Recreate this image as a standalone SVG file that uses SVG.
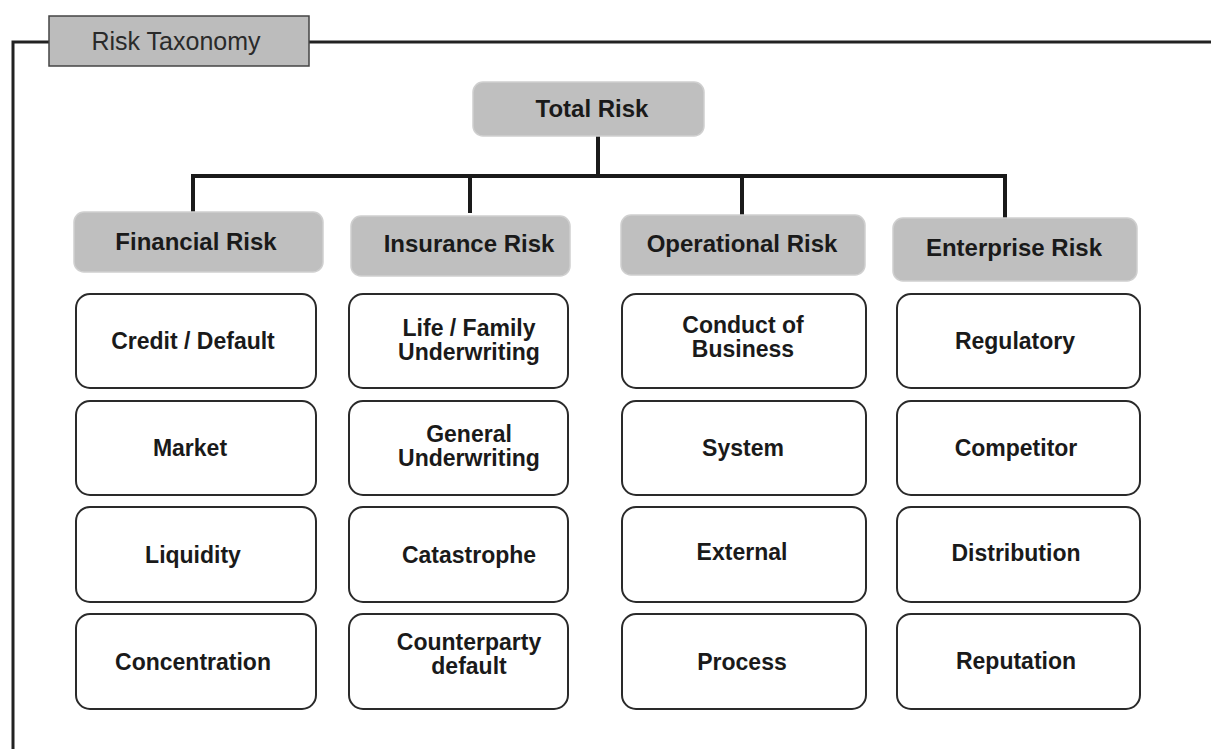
<svg xmlns="http://www.w3.org/2000/svg" width="1211" height="749" viewBox="0 0 1211 749">
<style>
.frame{fill:none;stroke:#222;stroke-width:3}
.conn{fill:none;stroke:#1a1a1a;stroke-width:4}
.cat{fill:#bfbfbf;stroke:#cfcfcf;stroke-width:1.5}
.leaf{fill:#fff;stroke:#2a2a2a;stroke-width:2}
.t{font-family:"Liberation Sans",Arial,sans-serif;font-weight:bold;fill:#1a1a1a;text-anchor:middle}
.ct{font-size:24px}
.lt{font-size:23px}
</style>
<rect width="1211" height="749" fill="#fff"/>
<g id="frame">
<path class="frame" d="M13,749 V42 H49 M309,42 H1211"/>
<rect x="49" y="16" width="260" height="50" fill="#bcbcbc" stroke="#444" stroke-width="1.5"/>
<text x="176" y="50" font-family="'Liberation Sans',Arial,sans-serif" font-size="25" fill="#2a2a2a" text-anchor="middle">Risk Taxonomy</text>
</g>
<g id="connectors">
<path class="conn" d="M598,136 V176 M193,232 V176 H1005 V218 M470,176 V213 M742,176 V215"/>
</g>
<g id="total"><rect class="cat" x="473" y="82" width="231" height="54" rx="10"/><text class="t ct" x="592" y="117">Total Risk</text></g>
<g id="financial"><rect class="cat" x="74" y="212" width="249" height="60" rx="10"/><text class="t ct" x="196" y="250">Financial Risk</text></g>
<g id="insurance"><rect class="cat" x="351" y="216" width="219" height="60" rx="10"/><text class="t ct" x="469" y="252">Insurance Risk</text></g>
<g id="operational"><rect class="cat" x="621" y="215" width="244" height="60" rx="10"/><text class="t ct" x="742" y="252">Operational Risk</text></g>
<g id="enterprise"><rect class="cat" x="893" y="218" width="244" height="63" rx="10"/><text class="t ct" x="1014" y="256">Enterprise Risk</text></g>

<g id="credit"><rect class="leaf" x="76" y="294" width="240" height="94" rx="14"/><text class="t lt" x="193" y="349">Credit / Default</text></g>
<g id="market"><rect class="leaf" x="76" y="401" width="240" height="94" rx="14"/><text class="t lt" x="190" y="456">Market</text></g>
<g id="liquidity"><rect class="leaf" x="76" y="507" width="240" height="95" rx="14"/><text class="t lt" x="193" y="563">Liquidity</text></g>
<g id="concentration"><rect class="leaf" x="76" y="614" width="240" height="95" rx="14"/><text class="t lt" x="193" y="670">Concentration</text></g>

<g id="life"><rect class="leaf" x="349" y="294" width="219" height="94" rx="14"/><text class="t lt" x="469" y="336">Life / Family</text><text class="t lt" x="469" y="360">Underwriting</text></g>
<g id="general"><rect class="leaf" x="349" y="401" width="219" height="94" rx="14"/><text class="t lt" x="469" y="442">General</text><text class="t lt" x="469" y="466">Underwriting</text></g>
<g id="catastrophe"><rect class="leaf" x="349" y="507" width="219" height="95" rx="14"/><text class="t lt" x="469" y="563">Catastrophe</text></g>
<g id="counterparty"><rect class="leaf" x="349" y="614" width="219" height="95" rx="14"/><text class="t lt" x="469" y="650">Counterparty</text><text class="t lt" x="469" y="674">default</text></g>

<g id="conduct"><rect class="leaf" x="622" y="294" width="244" height="94" rx="14"/><text class="t lt" x="743" y="333">Conduct of</text><text class="t lt" x="743" y="357">Business</text></g>
<g id="system"><rect class="leaf" x="622" y="401" width="244" height="94" rx="14"/><text class="t lt" x="743" y="456">System</text></g>
<g id="external"><rect class="leaf" x="622" y="507" width="244" height="95" rx="14"/><text class="t lt" x="742" y="560">External</text></g>
<g id="process"><rect class="leaf" x="622" y="614" width="244" height="95" rx="14"/><text class="t lt" x="742" y="670">Process</text></g>

<g id="regulatory"><rect class="leaf" x="897" y="294" width="243" height="94" rx="14"/><text class="t lt" x="1015" y="349">Regulatory</text></g>
<g id="competitor"><rect class="leaf" x="897" y="401" width="243" height="94" rx="14"/><text class="t lt" x="1016" y="456">Competitor</text></g>
<g id="distribution"><rect class="leaf" x="897" y="507" width="243" height="95" rx="14"/><text class="t lt" x="1016" y="561">Distribution</text></g>
<g id="reputation"><rect class="leaf" x="897" y="614" width="243" height="95" rx="14"/><text class="t lt" x="1016" y="669">Reputation</text></g>
</svg>
